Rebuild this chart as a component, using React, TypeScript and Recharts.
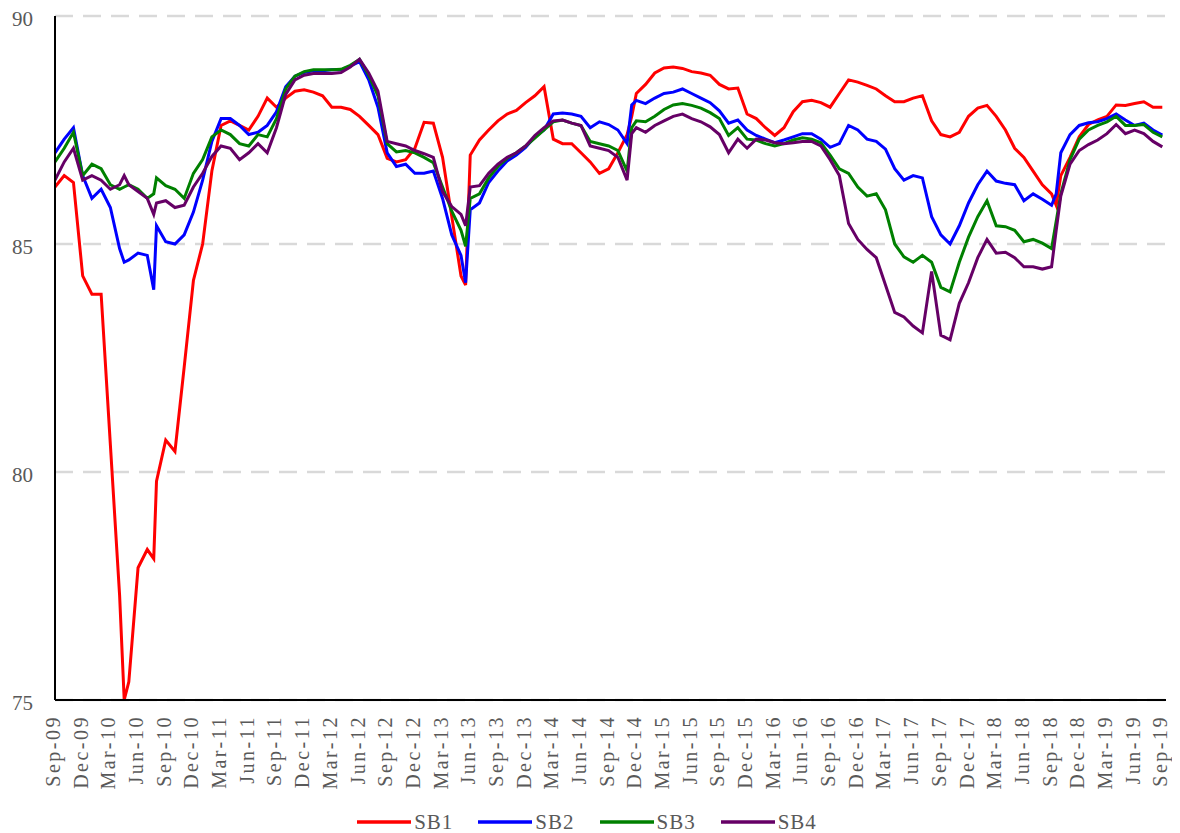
import React from 'react';
import { LineChart, Line, XAxis, YAxis, CartesianGrid, Legend } from 'recharts';

// x positions: months since Sep-09
const months = [
  0, 1, 2, 3, 4, 5, 6, 7, 7.5, 8, 9, 10, 10.7,
  11, 12, 13, 14, 15, 16, 17, 18, 19, 20,
  21, 22, 23, 24, 25, 26, 27, 28, 29, 30,
  31, 32, 33, 34, 35, 36, 37, 38, 39, 40,
  41, 42, 43, 44, 44.5, 45, 46, 47, 48, 49, 50,
  51, 52, 53, 54, 55, 56, 57, 58, 59, 60,
  61, 62, 62.5, 63, 64, 65, 66, 67, 68, 69, 70,
  71, 72, 73, 74, 75, 76, 77, 78, 79, 80,
  81, 82, 83, 84, 85, 86, 87, 88, 89, 90,
  91, 92, 93, 94, 95, 96, 97, 98, 99, 100,
  101, 102, 103, 104, 105, 106, 107, 108, 108.5,
  109, 110, 111, 112, 113, 114, 115, 116, 117, 118, 119, 120,
];

const tickMonths = [
  0, 3, 6, 9, 12, 15, 18, 21, 24, 27, 30, 33, 36, 39, 42, 45, 48, 51, 54, 57,
  60, 63, 66, 69, 72, 75, 78, 81, 84, 87, 90, 93, 96, 99, 102, 105, 108, 111, 114, 117, 120,
];

const tickLabels = [
  'Sep-09', 'Dec-09', 'Mar-10', 'Jun-10', 'Sep-10', 'Dec-10', 'Mar-11', 'Jun-11', 'Sep-11', 'Dec-11',
  'Mar-12', 'Jun-12', 'Sep-12', 'Dec-12', 'Mar-13', 'Jun-13', 'Sep-13', 'Dec-13', 'Mar-14', 'Jun-14',
  'Sep-14', 'Dec-14', 'Mar-15', 'Jun-15', 'Sep-15', 'Dec-15', 'Mar-16', 'Jun-16', 'Sep-16', 'Dec-16',
  'Mar-17', 'Jun-17', 'Sep-17', 'Dec-17', 'Mar-18', 'Jun-18', 'Sep-18', 'Dec-18', 'Mar-19', 'Jun-19',
  'Sep-19',
];

const yTicks = [75, 80, 85, 90];

const sb1 = [
  86.25, 86.5, 86.35, 84.3, 83.9, 83.9, 80.6, 77.3, 75.0, 75.4, 77.9, 78.3, 78.1,
  79.8, 80.7, 80.45, 82.3, 84.2, 85.0, 86.6, 87.6, 87.7, 87.6,
  87.5, 87.8, 88.2, 88.0, 88.2, 88.35, 88.38, 88.33, 88.25, 88.0,
  88.0, 87.95, 87.8, 87.6, 87.4, 86.88, 86.8, 86.85, 87.1, 87.67,
  87.65, 86.9, 85.6, 84.3, 84.1, 86.95, 87.28, 87.5, 87.7, 87.85, 87.93,
  88.1, 88.25, 88.45, 87.3, 87.2, 87.2, 87.0, 86.8, 86.55, 86.65,
  87.0, 87.4, 87.8, 88.3, 88.5, 88.75, 88.86, 88.88, 88.85, 88.78, 88.75,
  88.7, 88.5, 88.4, 88.42, 87.85, 87.75, 87.55, 87.38, 87.55, 87.9,
  88.12, 88.15, 88.1, 88.0, 88.3, 88.6, 88.55, 88.48, 88.4, 88.25,
  88.12, 88.12, 88.2, 88.25, 87.7, 87.4, 87.35, 87.45, 87.8, 87.98,
  88.04, 87.8, 87.5, 87.1, 86.9, 86.6, 86.3, 86.1, 85.85,
  86.5, 86.9, 87.35, 87.62, 87.72, 87.8, 88.05, 88.04, 88.08, 88.12, 88.0, 88.0,
];

const sb2 = [
  87.0, 87.3, 87.55, 86.5, 86.0, 86.2, 85.8, 84.9, 84.6, 84.65, 84.8, 84.75, 84.0,
  85.4, 85.05, 85.0, 85.2, 85.7, 86.4, 87.25, 87.75, 87.75, 87.6,
  87.4, 87.45, 87.6, 87.9, 88.45, 88.68, 88.76, 88.8, 88.8, 88.82,
  88.82, 88.9, 89.0, 88.6, 88.0, 87.0, 86.7, 86.75, 86.55, 86.55,
  86.6, 86.0, 85.2, 84.75, 84.15, 85.75, 85.9, 86.35, 86.6, 86.82, 86.95,
  87.12, 87.35, 87.5, 87.85, 87.87, 87.85, 87.8, 87.55, 87.68, 87.62,
  87.5, 87.2, 88.05, 88.15, 88.08, 88.2, 88.3, 88.33, 88.4, 88.3, 88.2,
  88.1, 87.92, 87.65, 87.72, 87.5, 87.38, 87.3, 87.22, 87.28, 87.35,
  87.42, 87.42, 87.3, 87.12, 87.2, 87.6, 87.5, 87.3, 87.25, 87.08,
  86.65, 86.4, 86.5, 86.45, 85.6, 85.2, 85.0, 85.4, 85.9, 86.3,
  86.6, 86.38, 86.33, 86.3, 85.95, 86.1, 85.98, 85.85, 86.1,
  87.0, 87.4, 87.6, 87.66, 87.68, 87.75, 87.85, 87.72, 87.6, 87.65, 87.5, 87.39,
];

const sb3 = [
  86.8, 87.1, 87.45, 86.5, 86.75, 86.65, 86.3, 86.2, 86.25, 86.3, 86.2, 86.0, 86.1,
  86.45, 86.28, 86.2, 86.0, 86.55, 86.85, 87.35, 87.5, 87.4, 87.2,
  87.15, 87.4, 87.35, 87.75, 88.4, 88.68, 88.78, 88.82, 88.82, 88.82,
  88.83, 88.92, 89.05, 88.7, 88.25, 87.2, 87.02, 87.05, 87.0, 86.9,
  86.78, 86.25, 85.72, 85.3, 84.95, 86.0, 86.1, 86.45, 86.7, 86.88, 87.0,
  87.15, 87.32, 87.5, 87.68, 87.72, 87.65, 87.6, 87.25, 87.2, 87.15,
  87.05, 86.6, 87.55, 87.7, 87.68, 87.8, 87.95, 88.05, 88.08, 88.04, 87.98,
  87.88, 87.75, 87.38, 87.55, 87.3, 87.28, 87.2, 87.15, 87.2, 87.28,
  87.33, 87.3, 87.22, 86.95, 86.65, 86.55, 86.25, 86.05, 86.1, 85.75,
  85.0, 84.72, 84.6, 84.75, 84.6, 84.05, 83.95, 84.6, 85.15, 85.6,
  85.95, 85.4, 85.38, 85.3, 85.05, 85.1, 85.02, 84.9, 85.5,
  86.1, 86.85, 87.3, 87.5, 87.6, 87.68, 87.8, 87.6, 87.6, 87.62, 87.45, 87.35,
];

const sb4 = [
  86.4, 86.8, 87.1, 86.4, 86.5, 86.4, 86.2, 86.3, 86.5, 86.3, 86.15, 86.0, 85.65,
  85.9, 85.95, 85.8, 85.85, 86.25, 86.55, 86.92, 87.15, 87.1, 86.85,
  87.0, 87.2, 87.0, 87.55, 88.28, 88.6, 88.7, 88.74, 88.74, 88.74,
  88.76, 88.88, 89.05, 88.75, 88.35, 87.25, 87.2, 87.15, 87.05, 86.98,
  86.9, 86.15, 85.82, 85.65, 85.4, 86.25, 86.28, 86.55, 86.75, 86.9, 87.0,
  87.15, 87.38, 87.55, 87.7, 87.72, 87.65, 87.6, 87.15, 87.1, 87.05,
  86.9, 86.4, 87.42, 87.55, 87.45, 87.6, 87.7, 87.8, 87.85, 87.75, 87.68,
  87.57, 87.4, 87.0, 87.3, 87.1, 87.3, 87.28, 87.22, 87.2, 87.22,
  87.25, 87.25, 87.15, 86.85, 86.5, 85.45, 85.1, 84.88, 84.7, 84.1,
  83.5, 83.4, 83.2, 83.05, 84.4, 83.0, 82.9, 83.7, 84.15, 84.7,
  85.1, 84.8, 84.82, 84.7, 84.5, 84.5, 84.45, 84.5, 85.3,
  86.05, 86.75, 87.05, 87.18, 87.28, 87.42, 87.62, 87.42, 87.5, 87.42, 87.25, 87.13,
];

const seriesNames = ['SB1', 'SB2', 'SB3', 'SB4'];
const seriesColors = ['#ff0000', '#0000ff', '#008000', '#660066'];
const seriesValues = [sb1, sb2, sb3, sb4];

const data = months.map((m, i) => {
  const row: Record<string, number> = { m };
  seriesNames.forEach((name, s) => {
    row[name] = seriesValues[s][i];
  });
  return row;
});

const FONT = '"Liberation Serif", "Times New Roman", serif';
const TEXT_COLOR = '#595959';

const XTick = (props: any) => {
  const { x, y, payload } = props;
  const idx = tickMonths.indexOf(payload.value);
  return (
    <text
      x={x}
      y={y}
      transform={`rotate(-90 ${x} ${y})`}
      textAnchor="end"
      dy="0.25em"
      fill={TEXT_COLOR}
      fontSize={20}
      fontFamily={FONT}
      letterSpacing={2.5}
    >
      {idx >= 0 ? tickLabels[idx] : ''}
    </text>
  );
};

const YTick = (props: any) => {
  const { x, y, payload } = props;
  return (
    <text
      x={x}
      y={y + 3}
      textAnchor="end"
      dy="0.355em"
      fill={TEXT_COLOR}
      fontSize={21}
      fontFamily={FONT}
    >
      {payload.value}
    </text>
  );
};

const renderLegend = (props: any) => {
  const payload = props.payload || [];
  return (
    <div
      style={{
        display: 'flex',
        justifyContent: 'center',
        alignItems: 'center',
        fontFamily: FONT,
        fontSize: 21,
        color: TEXT_COLOR,
        height: 22,
      }}
    >
      {payload.map((entry: any, i: number) => (
        <div key={entry.value} style={{ display: 'flex', alignItems: 'center', marginLeft: i ? 25 : 0 }}>
          <svg width={54} height={6} style={{ display: 'block' }}>
            <line x1={0} y1={3} x2={54} y2={3} stroke={entry.color} strokeWidth={3.5} />
          </svg>
          <span style={{ marginLeft: 3, letterSpacing: 1, lineHeight: '22px' }}>{entry.value}</span>
        </div>
      ))}
    </div>
  );
};

export default function App() {
  return (
    <div style={{ width: 1164, height: 825 }}>
      <LineChart
        width={1164}
        height={825}
        data={data}
        margin={{ top: 8, right: 6, left: 0, bottom: 0 }}
      >
        <CartesianGrid
          vertical={false}
          stroke="#d9d9d9"
          strokeDasharray="18 10"
          strokeWidth={2.5}
        />
        <XAxis
          dataKey="m"
          type="number"
          domain={[0, 120.4]}
          allowDataOverflow
          ticks={tickMonths}
          interval={0}
          tickLine={false}
          tickSize={0}
          tickMargin={15}
          height={111}
          axisLine={{ stroke: '#000', strokeWidth: 2 }}
          tick={<XTick />}
        />
        <YAxis
          domain={[75, 90]}
          ticks={yTicks}
          interval={0}
          width={47}
          tickLine={false}
          tickSize={0}
          tickMargin={22}
          axisLine={{ stroke: '#000', strokeWidth: 2 }}
          tick={<YTick />}
        />
        <Legend verticalAlign="bottom" height={22} content={renderLegend} />
        {seriesNames.map((name, i) => (
          <Line
            key={name}
            type="linear"
            dataKey={name}
            name={name}
            stroke={seriesColors[i]}
            strokeWidth={3}
            dot={false}
            activeDot={false}
            isAnimationActive={false}
          />
        ))}
      </LineChart>
    </div>
  );
}
